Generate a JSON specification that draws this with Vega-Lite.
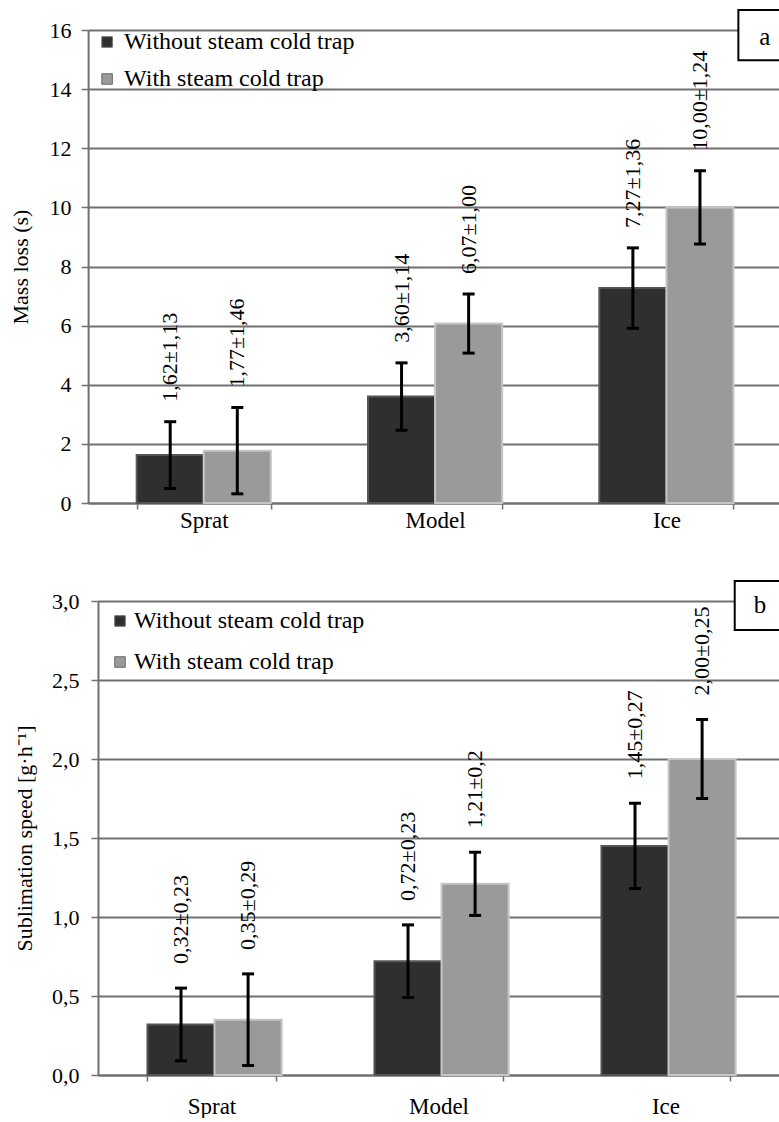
{
  "$schema": "https://vega.github.io/schema/vega-lite/v6.json",
  "padding": {"left": 9, "top": 8, "right": 0, "bottom": 0},
  "background": "white",
  "spacing": 47,
  "center": true,
  "config": {
    "font": "Liberation Serif",
    "view": {"stroke": null},
    "axis": {"labelColor": "black", "titleColor": "black", "titleFontWeight": "normal", "domainColor": "#707070", "tickColor": "#707070", "gridColor": "#707070", "labelFont": "Liberation Serif", "titleFont": "Liberation Serif"},
    "legend": {"labelFont": "Liberation Serif", "labelColor": "black", "labelLimit": 500},
    "text": {"font": "Liberation Serif"}
  },
  "resolve": {"scale": {"color": "independent", "stroke": "independent"}, "legend": {"color": "independent"}},
  "datasets": {
    "a": [
      {"cat": "Sprat", "series": "Without steam cold trap", "value": 1.62, "lo": 0.49, "hi": 2.75, "label": "1,62±1,13"},
      {"cat": "Sprat", "series": "With steam cold trap", "value": 1.77, "lo": 0.31, "hi": 3.23, "label": "1,77±1,46"},
      {"cat": "Model", "series": "Without steam cold trap", "value": 3.60, "lo": 2.46, "hi": 4.74, "label": "3,60±1,14"},
      {"cat": "Model", "series": "With steam cold trap", "value": 6.07, "lo": 5.07, "hi": 7.07, "label": "6,07±1,00"},
      {"cat": "Ice", "series": "Without steam cold trap", "value": 7.27, "lo": 5.91, "hi": 8.63, "label": "7,27±1,36"},
      {"cat": "Ice", "series": "With steam cold trap", "value": 10.00, "lo": 8.76, "hi": 11.24, "label": "10,00±1,24"}
    ],
    "b": [
      {"cat": "Sprat", "series": "Without steam cold trap", "value": 0.32, "lo": 0.09, "hi": 0.55, "label": "0,32±0,23"},
      {"cat": "Sprat", "series": "With steam cold trap", "value": 0.35, "lo": 0.06, "hi": 0.64, "label": "0,35±0,29"},
      {"cat": "Model", "series": "Without steam cold trap", "value": 0.72, "lo": 0.49, "hi": 0.95, "label": "0,72±0,23"},
      {"cat": "Model", "series": "With steam cold trap", "value": 1.21, "lo": 1.01, "hi": 1.41, "label": "1,21±0,2"},
      {"cat": "Ice", "series": "Without steam cold trap", "value": 1.45, "lo": 1.18, "hi": 1.72, "label": "1,45±0,27"},
      {"cat": "Ice", "series": "With steam cold trap", "value": 2.00, "lo": 1.75, "hi": 2.25, "label": "2,00±0,25"}
    ]
  },
  "vconcat": [
    {
      "width": 694,
      "height": 473,
      "data": {"name": "a"},
      "layer": [
        {
          "encoding": {
            "x": {"field": "cat", "type": "nominal", "sort": ["Sprat", "Model", "Ice"], "scale": {"paddingInner": 0.42, "paddingOuter": 0.21},
              "axis": {"title": null, "labelAngle": 0, "tickBand": "extent", "tickSize": 6, "tickWidth": 1.5, "domainWidth": 2, "labelPadding": 0, "labelFontSize": 23, "labelFont": "Liberation Serif"}},
            "xOffset": {"field": "series", "type": "nominal", "sort": ["Without steam cold trap", "With steam cold trap"]},
            "y": {"field": "value", "type": "quantitative", "scale": {"domain": [0, 16], "nice": false},
              "axis": {"values": [0, 2, 4, 6, 8, 10, 12, 14, 16], "grid": true, "gridWidth": 1.8, "domainWidth": 2, "tickSize": 7, "tickWidth": 1.5, "labelFontSize": 22, "labelFont": "Liberation Serif", "labelPadding": 10, "title": "Mass loss (s)", "titleFontSize": 22, "titleFont": "Liberation Serif", "titlePadding": 17}}
          },
          "layer": [
            {
              "mark": {"type": "bar", "strokeWidth": 2},
              "encoding": {
                "color": {"field": "series", "type": "nominal", "sort": ["Without steam cold trap", "With steam cold trap"], "scale": {"range": ["#2f2f2f", "#9a9a9a"]},
                  "legend": {"orient": "none", "legendX": 7, "legendY": 0, "title": null, "symbolType": "square", "symbolSize": 110, "labelFontSize": 24, "rowPadding": 13, "labelOffset": 5, "padding": 0, "symbolStrokeWidth": 1, "symbolStrokeColor": "#666666"}},
                "stroke": {"field": "series", "type": "nominal", "sort": ["Without steam cold trap", "With steam cold trap"], "scale": {"range": ["#555555", "#c6c6c6"]}, "legend": null}
              }
            },
            {"mark": {"type": "rule", "strokeWidth": 3, "color": "black"}, "encoding": {"y": {"field": "lo", "type": "quantitative"}, "y2": {"field": "hi"}}},
            {"mark": {"type": "tick", "size": 12, "thickness": 3, "color": "black", "opacity": 1}, "encoding": {"y": {"field": "lo", "type": "quantitative"}}},
            {"mark": {"type": "tick", "size": 12, "thickness": 3, "color": "black", "opacity": 1}, "encoding": {"y": {"field": "hi", "type": "quantitative"}}},
            {"mark": {"type": "text", "angle": 270, "align": "left", "baseline": "middle", "dx": 20, "fontSize": 22, "font": "Liberation Serif", "color": "black"}, "encoding": {"y": {"field": "hi", "type": "quantitative"}, "text": {"field": "label"}}}
          ]
        },
        {
          "data": {"values": [{"id": "a"}]},
          "layer": [
            {
              "mark": {"type": "rect", "fill": "white", "stroke": "black", "strokeWidth": 2, "clip": false},
              "encoding": {
                "x": {"datum": 0.937, "type": "quantitative", "scale": {"domain": [0, 1], "nice": false}, "axis": null},
                "x2": {"datum": 1.03},
                "y": {"datum": 14.98, "type": "quantitative"},
                "y2": {"datum": 16.68}
              }
            },
            {
              "mark": {"type": "text", "fontSize": 25, "font": "Liberation Serif", "baseline": "middle", "align": "center", "color": "black"},
              "encoding": {
                "x": {"datum": 0.975, "type": "quantitative", "scale": {"domain": [0, 1], "nice": false}, "axis": null},
                "y": {"datum": 15.75, "type": "quantitative"},
                "text": {"field": "id"}
              }
            }
          ]
        }
      ],
      "resolve": {"scale": {"x": "independent"}, "axis": {"x": "independent"}}
    },
    {
      "width": 681,
      "height": 474,
      "data": {"name": "b"},
      "layer": [
        {
          "encoding": {
            "x": {"field": "cat", "type": "nominal", "sort": ["Sprat", "Model", "Ice"], "scale": {"paddingInner": 0.436, "paddingOuter": 0.218},
              "axis": {"title": null, "labelAngle": 0, "tickBand": "extent", "tickSize": 6, "tickWidth": 1.5, "domainWidth": 2, "labelPadding": 14, "labelFontSize": 23, "labelFont": "Liberation Serif"}},
            "xOffset": {"field": "series", "type": "nominal", "sort": ["Without steam cold trap", "With steam cold trap"]},
            "y": {"field": "value", "type": "quantitative", "scale": {"domain": [0, 3], "nice": false},
              "axis": {"values": [0, 0.5, 1, 1.5, 2, 2.5, 3], "labelExpr": "replace(format(datum.value, '.1f'), '.', ',')", "grid": true, "gridWidth": 1.8, "domainWidth": 2, "tickSize": 7, "tickWidth": 1.5, "labelFontSize": 22, "labelFont": "Liberation Serif", "labelPadding": 12, "title": "Sublimation speed [g·h⁻¹]", "titleFontSize": 22, "titleFont": "Liberation Serif", "titlePadding": 15}}
          },
          "layer": [
            {
              "mark": {"type": "bar", "strokeWidth": 2},
              "encoding": {
                "color": {"field": "series", "type": "nominal", "sort": ["Without steam cold trap", "With steam cold trap"], "scale": {"range": ["#2f2f2f", "#9a9a9a"]},
                  "legend": {"orient": "none", "legendX": 10, "legendY": 8, "title": null, "symbolType": "square", "symbolSize": 110, "labelFontSize": 24, "rowPadding": 17, "labelOffset": 2, "padding": 0, "symbolStrokeWidth": 1, "symbolStrokeColor": "#666666"}},
                "stroke": {"field": "series", "type": "nominal", "sort": ["Without steam cold trap", "With steam cold trap"], "scale": {"range": ["#555555", "#c6c6c6"]}, "legend": null}
              }
            },
            {"mark": {"type": "rule", "strokeWidth": 3, "color": "black"}, "encoding": {"y": {"field": "lo", "type": "quantitative"}, "y2": {"field": "hi"}}},
            {"mark": {"type": "tick", "size": 12, "thickness": 3, "color": "black", "opacity": 1}, "encoding": {"y": {"field": "lo", "type": "quantitative"}}},
            {"mark": {"type": "tick", "size": 12, "thickness": 3, "color": "black", "opacity": 1}, "encoding": {"y": {"field": "hi", "type": "quantitative"}}},
            {"mark": {"type": "text", "angle": 270, "align": "left", "baseline": "middle", "dx": 24, "fontSize": 22, "font": "Liberation Serif", "color": "black"}, "encoding": {"y": {"field": "hi", "type": "quantitative"}, "text": {"field": "label"}}}
          ]
        },
        {
          "data": {"values": [{"id": "b"}]},
          "layer": [
            {
              "mark": {"type": "rect", "fill": "white", "stroke": "black", "strokeWidth": 2, "clip": false},
              "encoding": {
                "x": {"datum": 0.935, "type": "quantitative", "scale": {"domain": [0, 1], "nice": false}, "axis": null},
                "x2": {"datum": 1.0206},
                "y": {"datum": 2.816, "type": "quantitative"},
                "y2": {"datum": 3.127}
              }
            },
            {
              "mark": {"type": "text", "fontSize": 25, "font": "Liberation Serif", "baseline": "middle", "align": "center", "color": "black"},
              "encoding": {
                "x": {"datum": 0.972, "type": "quantitative", "scale": {"domain": [0, 1], "nice": false}, "axis": null},
                "y": {"datum": 2.975, "type": "quantitative"},
                "text": {"field": "id"}
              }
            }
          ]
        }
      ],
      "resolve": {"scale": {"x": "independent"}, "axis": {"x": "independent"}}
    }
  ]
}
